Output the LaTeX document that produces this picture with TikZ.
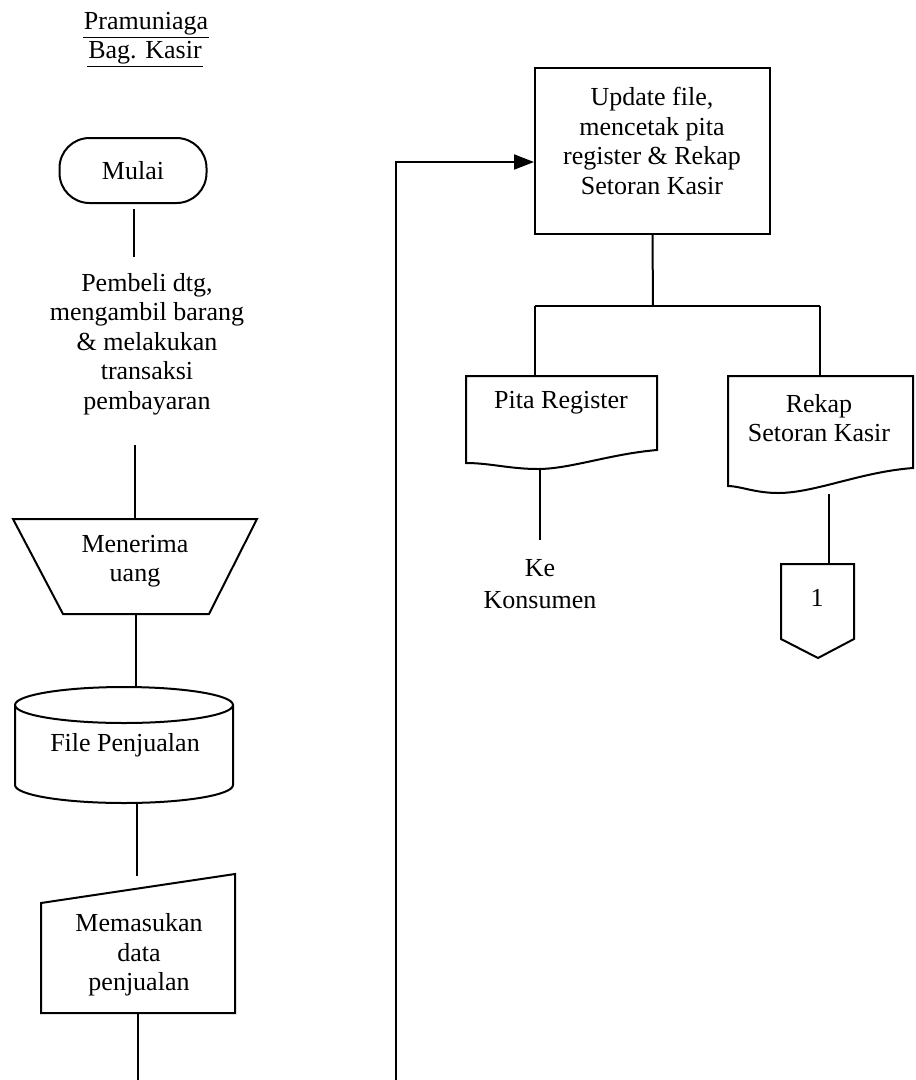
\documentclass[tikz,border=0pt]{standalone}
\usepackage{fontspec}
\setmainfont{Liberation Serif}
\usetikzlibrary{arrows.meta}
\begin{document}
\begin{tikzpicture}[x=1pt,y=-1pt,line width=2pt,line join=miter,
  fnt/.style={font=\fontsize{26}{29.5}\selectfont},
  txt/.style={fnt,align=center,inner sep=0pt},
  shp/.style={draw,line width=2pt},
  flow/.style={line width=2pt},
  thinflow/.style={line width=1.3pt},
  arr/.style={-{Triangle[length=20pt,width=15pt]}}]
\useasboundingbox (0,0) rectangle (916,1080);

% ---------- title ----------
\node[txt] (t1) at (146,24) {Pramuniaga};
\node[txt] (t2) at (145,53) {Bag. Kasir};
\draw[line width=1.3pt] ([yshift=-1pt]t1.south west) -- ([yshift=-1pt]t1.south east);
\draw[line width=1.3pt] ([yshift=-1pt]t2.south west) -- ([yshift=-1pt]t2.south east);

% ---------- left column ----------
\node[shp,fnt,rounded corners=30pt,minimum width=147pt,minimum height=65pt] (mulai) at (133,170.5) {Mulai};
\node[txt] (beli) at (147,344) {Pembeli dtg,\\mengambil barang\\\& melakukan\\transaksi\\pembayaran};
\coordinate (m1) at (134,209);
\coordinate (m2) at (134,257);
\draw[flow] (m1) -- (m2);

% manual operation (trapezoid)
\coordinate (trT) at (135,519);
\coordinate (trB) at (136,614);
\draw[shp] (13,519) -- (257,519) -- (209,614) -- (63,614) -- cycle;
\node[txt] (terima) at (135,561) {Menerima\\uang};
\coordinate (b1) at (135,445);
\draw[flow] (b1) -- (trT);

% disk storage (cylinder)
\coordinate (cyT) at (136,687);
\coordinate (cyB) at (137,803);
\draw[shp] (124,705) ellipse [x radius=109, y radius=18];
\draw[shp] (15,705) -- (15,785) arc[start angle=180, end angle=0, x radius=109, y radius=18] -- (233,705);
\node[txt] (file) at (125,745) {File Penjualan};
\draw[thinflow] (trB) -- (cyT);

% manual input
\coordinate (miT) at (137,876);
\coordinate (miB) at (138,1013);
\draw[shp] (41,903) -- (235,874) -- (235,1013) -- (41,1013) -- cycle;
\node[txt] (masuk) at (139,955) {Memasukan\\data\\penjualan};
\draw[flow] (cyB) -- (miT);
\coordinate (lb) at (138,1080);
\draw[flow] (miB) -- (lb);

% ---------- right column ----------
\node[draw,line width=2pt,minimum width=235pt,minimum height=166pt,inner sep=0pt] (upd) at (652.5,151) {};
\node[txt] (updt) at (652,141) {Update file,\\mencetak pita\\register \& Rekap\\Setoran Kasir};
\coordinate (rb) at (396,1080);
\coordinate (rt) at (396,162);
\draw[flow,arr] (rb) -- (rt) -- (rt -| upd.west);

\coordinate (br) at (653,306);
\coordinate (brl) at (535,306);
\coordinate (brr) at (820,306);
\draw[flow] (upd.south) -- (br);
\draw[flow] (brl) -- (brr);

% document: Pita Register
\draw[shp] (466,376) -- (657,376) -- (657,450)
  .. controls (610,454) and (570,469) .. (538,469)
  .. controls (510,469) and (490,463) .. (466,463) -- cycle;
\node[txt] (pita) at (561,403) {Pita Register};
\coordinate (pitaT) at (535,376);
\draw[flow] (brl) -- (pitaT);

% document: Rekap Setoran Kasir
\draw[shp] (728,376) -- (913,376) -- (913,468)
  .. controls (860,472) and (815,493) .. (778,493)
  .. controls (755,493) and (740,486) .. (728,486) -- cycle;
\node[txt] (rekap) at (819,418) {Rekap\\Setoran Kasir};
\coordinate (rekT) at (820,376);
\draw[flow] (brr) -- (rekT);

% Ke Konsumen
\coordinate (kT) at (540,469);
\coordinate (kB) at (540,540);
\draw[flow] (kT) -- (kB);
\node[txt] (kons) at (540,584) {Ke\\[3pt]Konsumen};

% off-page connector 1
\coordinate (cT) at (829,494);
\coordinate (cB) at (829,564);
\draw[flow] (cT) -- (cB);
\draw[shp] (781,564) -- (854,564) -- (854,639) -- (818,658) -- (781,639) -- cycle;
\node[txt] (one) at (817,598) {1};
\end{tikzpicture}
\end{document}
